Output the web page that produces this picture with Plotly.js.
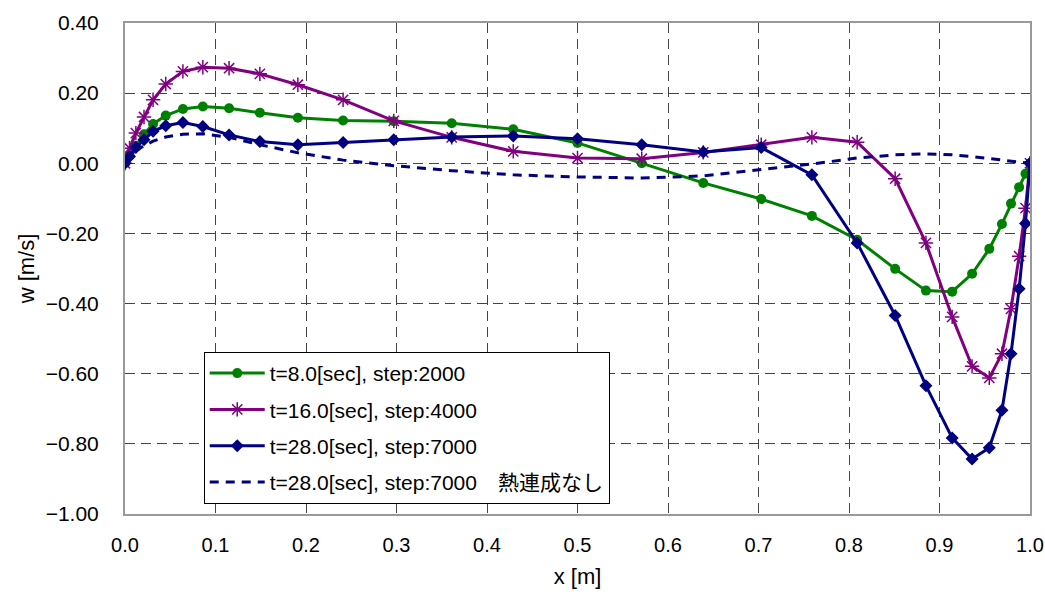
<!DOCTYPE html>
<html>
<head>
<meta charset="utf-8">
<script src="https://cdn.plot.ly/plotly-3.0.1.min.js"></script>
<style>html,body{margin:0;padding:0;background:#fff;}#chart{width:1045px;height:595px;}</style>
</head>
<body>
<div id="chart"></div>
<script>
// x positions [m]
const xGrid = [0, 0.005, 0.012, 0.021, 0.031, 0.045, 0.064, 0.086, 0.115, 0.149, 0.191, 0.241, 0.297, 0.361, 0.429, 0.5,
  0.571, 0.639, 0.703, 0.759, 0.809, 0.851, 0.885, 0.914, 0.936, 0.955, 0.969, 0.979, 0.988, 0.995, 1.0];

// w [m/s]
const wT8 = [0, 0.022, 0.05, 0.083, 0.112, 0.136, 0.155, 0.162, 0.157, 0.144, 0.13, 0.122, 0.12, 0.114, 0.097, 0.058,
  0.0, -0.056, -0.102, -0.15, -0.218, -0.301, -0.363, -0.366, -0.315, -0.244, -0.173, -0.115, -0.068, -0.03, 0];
const wT16 = [0, 0.043, 0.086, 0.132, 0.181, 0.226, 0.262, 0.274, 0.271, 0.255, 0.224, 0.181, 0.121, 0.074, 0.034, 0.015,
  0.013, 0.031, 0.053, 0.074, 0.060, -0.044, -0.227, -0.438, -0.579, -0.612, -0.543, -0.415, -0.265, -0.128, 0];
const wT28 = [0, 0.019, 0.045, 0.067, 0.091, 0.107, 0.116, 0.105, 0.081, 0.062, 0.053, 0.059, 0.067, 0.075, 0.078, 0.070,
  0.053, 0.032, 0.045, -0.033, -0.227, -0.434, -0.634, -0.783, -0.843, -0.811, -0.704, -0.543, -0.358, -0.172, 0];
const wT28NoCoupling = [0, 0.015, 0.035, 0.05, 0.063, 0.075, 0.083, 0.084, 0.074, 0.053, 0.03, 0.009, -0.007, -0.021, -0.033, -0.039,
  -0.042, -0.036, -0.019, -0.002, 0.015, 0.024, 0.027, 0.024, 0.019, 0.013, 0.009, 0.006, 0.003, 0.001, 0];

const names = ["t=8.0[sec], step:2000", "t=16.0[sec], step:4000", "t=28.0[sec], step:7000", "t=28.0[sec], step:7000\u3000熱連成なし"];

const traces = [
  {x: xGrid, y: wT8, name: names[0], mode: "lines+markers", legendgroup: "a",
   line: {color: "#008000", width: 3}, marker: {symbol: "circle", size: 10, color: "#008000"}},
  {x: xGrid, y: wT16, name: names[1], mode: "lines+markers", legendgroup: "b",
   line: {color: "#800080", width: 3}, marker: {symbol: "asterisk-open", size: 12, color: "#800080", line: {color: "#800080", width: 1.5}}},
  {x: xGrid, y: wT28, name: names[2], mode: "lines+markers", legendgroup: "c",
   line: {color: "#000080", width: 3}, marker: {symbol: "diamond", size: 10, color: "#000080"}},
  {x: xGrid, y: wT28NoCoupling, name: names[3], mode: "lines", legendgroup: "d",
   line: {color: "#000080", width: 3, dash: "9px,7px"}}
];

const baseFont = "Liberation Sans, Arial, Noto Sans CJK JP, sans-serif";
const layout = {
  width: 1045, height: 595,
  margin: {l: 125, r: 15, t: 23, b: 81},
  paper_bgcolor: "#ffffff", plot_bgcolor: "#ffffff",
  font: {family: baseFont, size: 20, color: "#000"},
  showlegend: true,
  legend: {
    x: 0.087, y: 0.33, xanchor: "left", yanchor: "top",
    bgcolor: "#ffffff", bordercolor: "#000", borderwidth: 1,
    font: {family: baseFont, size: 21, color: "#000"},
    tracegroupgap: 6, traceorder: "grouped", itemwidth: 55
  },
  xaxis: {
    range: [0, 1], dtick: 0.1, tick0: 0, tickformat: ".1f",
    showgrid: true, gridcolor: "#444", gridwidth: 1, griddash: "10px,6px",
    zeroline: false, showline: true, mirror: true, linecolor: "#999", linewidth: 2,
    ticks: "", ticklabelstandoff: 12, ticklabeloverflow: "allow",
    tickfont: {family: baseFont, size: 20, color: "#000"},
    title: {text: "x [m]", font: {family: baseFont, size: 22, color: "#000"}, standoff: 14}
  },
  yaxis: {
    range: [-1, 0.4], dtick: 0.2, tick0: 0, tickformat: ".2f",
    showgrid: true, gridcolor: "#444", gridwidth: 1, griddash: "10px,6px",
    zeroline: false, showline: true, mirror: true, linecolor: "#999", linewidth: 2,
    ticks: "", ticklabelstandoff: 20, ticklabeloverflow: "allow",
    tickfont: {family: baseFont, size: 21, color: "#000"},
    title: {text: "w [m/s]", font: {family: baseFont, size: 22, color: "#000"}, standoff: 5}
  }
};

Plotly.newPlot("chart", traces, layout, {displayModeBar: false, staticPlot: true});
</script>
</body>
</html>
